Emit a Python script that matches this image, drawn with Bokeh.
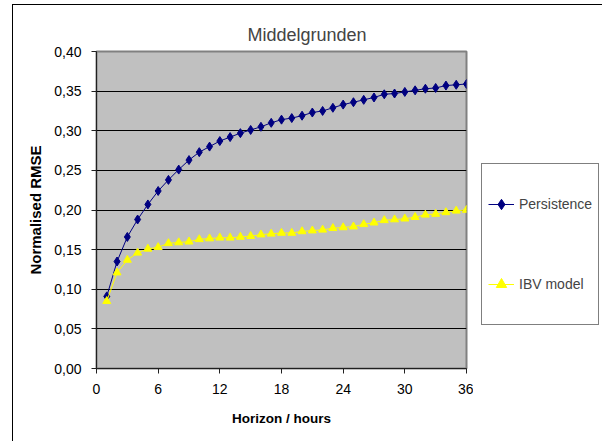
from bokeh.plotting import figure
from bokeh.layouts import row
from bokeh.models import Range1d, FixedTicker, Legend, LegendItem, Title
from bokeh.embed import file_html
from bokeh.resources import INLINE

horizon = list(range(1, 37))
persistence = [0.091, 0.135, 0.166, 0.188, 0.207, 0.224, 0.238, 0.251, 0.263, 0.273,
               0.280, 0.287, 0.292, 0.297, 0.301, 0.305, 0.310, 0.314, 0.316, 0.319,
               0.323, 0.325, 0.329, 0.333, 0.336, 0.339, 0.342, 0.346, 0.347, 0.349,
               0.351, 0.353, 0.354, 0.357, 0.358, 0.359]
ibv_model = [0.085, 0.121, 0.137, 0.146, 0.151, 0.153, 0.158, 0.159, 0.160, 0.163,
             0.164, 0.165, 0.165, 0.166, 0.167, 0.169, 0.170, 0.171, 0.171, 0.173,
             0.174, 0.175, 0.177, 0.178, 0.179, 0.182, 0.184, 0.187, 0.188, 0.189,
             0.191, 0.194, 0.195, 0.197, 0.199, 0.200]
series_names = ["Persistence", "IBV model"]
x_ticks = [0, 6, 12, 18, 24, 30, 36]
y_ticks = [0.0, 0.05, 0.10, 0.15, 0.20, 0.25, 0.30, 0.35, 0.40]
y_tick_labels = ["0,00", "0,05", "0,10", "0,15", "0,20", "0,25", "0,30", "0,35", "0,40"]

FONT = "Liberation Sans"
NAVY = "#000080"
YELLOW = "#ffff00"

# main chart
p = figure(width=461, height=437, output_backend="svg", toolbar_location=None,
           x_range=Range1d(0, 36), y_range=Range1d(0, 0.4),
           min_border_left=83, min_border_right=8, min_border_top=46, min_border_bottom=74)
p.margin = (4, 0, 0, 12)
p.styles = {"border-left": "1px solid black", "border-top": "1px solid black"}
p.background_fill_color = "#c0c0c0"
p.border_fill_color = "white"
p.outline_line_color = "#808080"
p.outline_line_width = 2

t = Title(text="Middelgrunden", align="left", offset=151, text_font=FONT,
          text_font_size="18px", text_font_style="normal", standoff=13)
p.add_layout(t, "above")

p.xgrid.grid_line_color = None
p.ygrid.grid_line_color = "black"
p.ygrid.grid_line_width = 1
p.ygrid.ticker = FixedTicker(ticks=y_ticks)

p.xaxis.ticker = FixedTicker(ticks=x_ticks)
p.yaxis.ticker = FixedTicker(ticks=y_ticks)
p.yaxis.major_label_overrides = {v: s for v, s in zip(y_ticks, y_tick_labels)}
for ax in (p.xaxis, p.yaxis):
    ax.major_label_text_font = FONT
    ax.major_label_text_font_size = "14px"
    ax.major_label_text_color = "black"
    ax.axis_label_text_font = FONT
    ax.axis_label_text_font_style = "bold"
    ax.axis_label_text_color = "black"
    ax.major_tick_in = 0
    ax.major_tick_out = 5
    ax.minor_tick_line_color = None
    ax.axis_line_color = "#202020"
    ax.major_tick_line_color = "#202020"
p.xaxis.axis_label = "Horizon / hours"
p.yaxis.axis_label = "Normalised RMSE"
p.xaxis.axis_label_text_font_size = "13.5px"
p.yaxis.axis_label_text_font_size = "15px"
p.xaxis.axis_label_standoff = 14
p.yaxis.axis_label_standoff = 7
p.xaxis.major_label_standoff = 10
p.yaxis.major_label_standoff = 10

p.line(horizon, persistence, line_color=NAVY, line_width=1)
p.scatter(horizon, persistence, marker="diamond", size=9, fill_color=NAVY, line_color=NAVY)
p.line(horizon, ibv_model, line_color=YELLOW, line_width=1)
p.scatter(horizon, ibv_model, marker="triangle", size=8, fill_color=YELLOW, line_color=YELLOW)

# legend panel on the right (same series, ranges chosen so nothing is drawn in its frame)
p2 = figure(width=130, height=436, output_backend="svg", toolbar_location=None,
            x_range=Range1d(100, 101), y_range=Range1d(100, 101),
            x_axis_type=None, y_axis_type=None,
            min_border_left=0, min_border_right=0, min_border_top=0, min_border_bottom=0)
p2.margin = (4, 0, 0, 0)
p2.styles = {"border-top": "1px solid black"}
p2.outline_line_color = None
p2.xgrid.grid_line_color = None
p2.ygrid.grid_line_color = None
p2.background_fill_color = "white"
p2.border_fill_color = "white"
k1 = p2.line(horizon, persistence, line_color=NAVY, line_width=1)
m1 = p2.scatter(horizon, persistence, marker="diamond", size=9, fill_color=NAVY, line_color=NAVY)
k2 = p2.line(horizon, ibv_model, line_color=YELLOW, line_width=1)
m2 = p2.scatter(horizon, ibv_model, marker="triangle", size=8, fill_color=YELLOW, line_color=YELLOW)

legend = Legend(items=[LegendItem(label=series_names[0], renderers=[k1, m1]),
                       LegendItem(label=series_names[1], renderers=[k2, m2])],
                location=(8, 42), orientation="vertical",
                label_text_font=FONT, label_text_font_size="14px",
                glyph_width=26, glyph_height=68, label_height=68, spacing=12,
                padding=6, margin=0, label_standoff=5,
                border_line_color="black", border_line_width=1,
                background_fill_color="white", background_fill_alpha=1)
p2.add_layout(legend, "center")

layout = row(p, p2)
layout.spacing = 0

open("out.html", "w").write(file_html(layout, INLINE))
